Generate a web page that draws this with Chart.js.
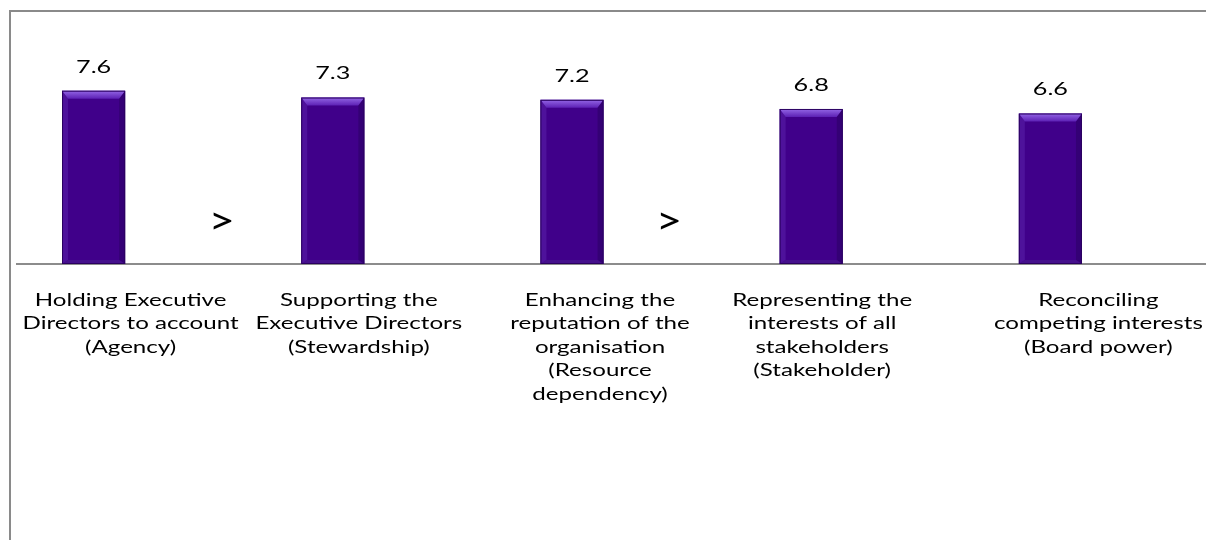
<!DOCTYPE html>
<html><head><meta charset="utf-8">
<script src="https://cdn.jsdelivr.net/npm/chart.js@4/dist/chart.umd.min.js"></script>
<style>
html,body{margin:0;padding:0;background:#fff;overflow:hidden;width:1206px;height:540px;position:relative;}
#frame{position:absolute;left:9px;top:10px;width:1400px;height:800px;border-left:2px solid #8a8a8a;border-top:2px solid #8a8a8a;}
#wrap{position:absolute;left:-26px;top:0;width:1232px;height:540px;}
</style></head><body>
<div id="frame"></div>
<div id="wrap"><canvas id="c"></canvas></div>
<script>
// ---- data ----
const categories = [
  ['Holding Executive', 'Directors to account', '(Agency)'],
  ['Supporting the', 'Executive Directors', '(Stewardship)'],
  ['Enhancing the', 'reputation of the', 'organisation', '(Resource', 'dependency)'],
  ['Representing the', 'interests of all', 'stakeholders', '(Stakeholder)'],
  ['Reconciling', 'competing interests', '(Board power)']
];
const values = [7.6, 7.3, 7.2, 6.8, 6.6];
const comparisonSigns = ['>', '', '>', '', ''];

// ---- styles (positions relative to library scales) ----
const FONT = 'Lato, "Open Sans", sans-serif';
const STRETCH = 1.34;
const labelShift = [37, 26, 28, 11, 48];
const signShift = [128, 0, 97, 0, 0];

function stretchedText(ctx, text, x, y, sx) {
  ctx.save();
  ctx.translate(x, y);
  ctx.scale(sx, 1);
  ctx.fillText(text, 0, 0);
  ctx.restore();
}

const bevel = {
  id: 'bevel',
  afterDatasetsDraw(chart) {
    const ctx = chart.ctx;
    chart.getDatasetMeta(0).data.forEach(bar => {
      const l = bar.x - bar.width / 2, r = bar.x + bar.width / 2, t = bar.y, b = bar.base;
      const e = 8, s = 6, eb = 4;
      ctx.save();
      let g = ctx.createLinearGradient(0, t, 0, t + e);
      g.addColorStop(0, '#9466e6'); g.addColorStop(1, '#5c20b4');
      ctx.fillStyle = g;
      ctx.beginPath(); ctx.moveTo(l, t); ctx.lineTo(r, t); ctx.lineTo(r - s, t + e); ctx.lineTo(l + s, t + e); ctx.closePath(); ctx.fill();
      ctx.fillStyle = 'rgba(95,40,175,0.45)';
      ctx.beginPath(); ctx.moveTo(l, t); ctx.lineTo(l + s, t + e); ctx.lineTo(l + s, b - eb); ctx.lineTo(l, b); ctx.closePath(); ctx.fill();
      ctx.fillStyle = 'rgba(35,0,85,0.4)';
      ctx.beginPath(); ctx.moveTo(r, t); ctx.lineTo(r - s, t + e); ctx.lineTo(r - s, b - eb); ctx.lineTo(r, b); ctx.closePath(); ctx.fill();
      ctx.fillStyle = 'rgba(70,20,140,0.8)';
      ctx.beginPath(); ctx.moveTo(l, b); ctx.lineTo(r, b); ctx.lineTo(r - s, b - eb); ctx.lineTo(l + s, b - eb); ctx.closePath(); ctx.fill();
      ctx.strokeStyle = '#2a0060'; ctx.lineWidth = 1;
      ctx.strokeRect(l + 0.5, t + 0.5, bar.width - 1, b - t - 1);
      ctx.restore();
    });
  }
};

const decor = {
  id: 'decor',
  beforeDatasetsDraw(chart) {
    const ctx = chart.ctx, y0 = chart.scales.y.getPixelForValue(0);
    ctx.save();
    ctx.strokeStyle = '#8c8c8c'; ctx.lineWidth = 2;
    ctx.beginPath(); ctx.moveTo(42, y0); ctx.lineTo(chart.width, y0); ctx.stroke();
    ctx.restore();
  },
  afterDraw(chart) {
    const ctx = chart.ctx, xs = chart.scales.x, ys = chart.scales.y;
    const y0 = ys.getPixelForValue(0);
    ctx.save();
    ctx.fillStyle = '#000';
    ctx.textAlign = 'center'; ctx.textBaseline = 'middle';
    ctx.font = '18px ' + FONT;
    chart.getDatasetMeta(0).data.forEach((bar, i) => {
      stretchedText(ctx, values[i].toFixed(1), bar.x, bar.y - 24, 1.4);
    });
    categories.forEach((lines, i) => {
      const cx = xs.getPixelForValue(i) + labelShift[i];
      lines.forEach((ln, k) => stretchedText(ctx, ln, cx, y0 + 36 + k * 23.5, STRETCH));
    });
    ctx.font = '38px ' + FONT;
    comparisonSigns.forEach((sg, i) => {
      if (!sg) return;
      stretchedText(ctx, sg, xs.getPixelForValue(i) + signShift[i], ys.getPixelForValue(1.85), 1.2);
    });
    ctx.restore();
  }
};

new Chart(document.getElementById('c'), {
  type: 'bar',
  data: {
    labels: categories,
    datasets: [{
      data: values,
      backgroundColor: '#40008a',
      borderWidth: 0,
      categoryPercentage: 1,
      barPercentage: 0.264
    }]
  },
  options: {
    responsive: true,
    maintainAspectRatio: false,
    animation: false,
    layout: { padding: { left: 0, right: 36, top: 36, bottom: 276 } },
    plugins: { legend: { display: false }, tooltip: { enabled: false } },
    scales: {
      x: { display: false, offset: true },
      y: { display: false, min: 0, max: 10 }
    }
  },
  plugins: [decor, bevel]
});
</script>
</body></html>
